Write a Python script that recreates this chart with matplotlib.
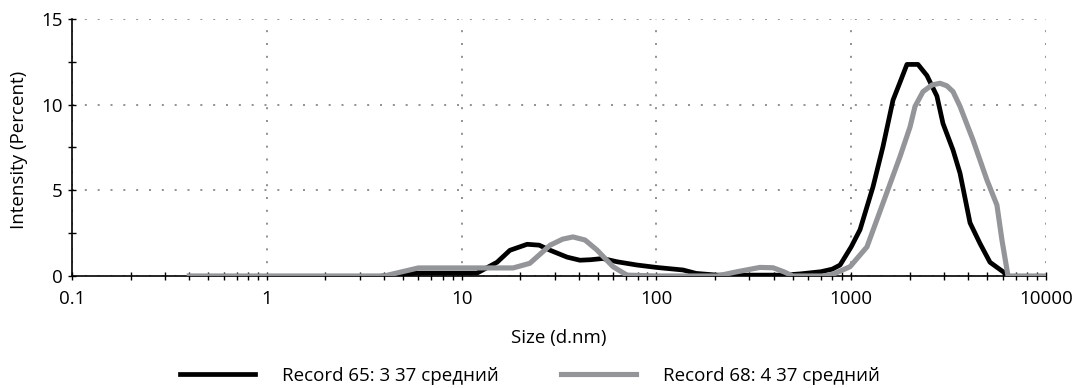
import matplotlib.pyplot as plt
from matplotlib.ticker import LogLocator, NullFormatter, FixedLocator

plt.rcParams['font.family'] = ['Open Sans', 'DejaVu Sans']

# ---- data ----
size_65 = [3.96, 4.5, 5.9, 8, 12.0, 15.2, 17.7, 21.7, 25, 28.5, 34.8, 40.5, 46, 53,
           62.8, 79.5, 100, 137, 160, 205, 300, 450, 546, 700, 800, 877, 1000, 1110,
           1294, 1456, 1640, 1780, 1933, 2202, 2448, 2755, 2960, 3333, 3620, 4075,
           4583, 5160, 6017, 6383]
int_65 = [0, 0.05, 0.17, 0.17, 0.17, 0.8, 1.5, 1.85, 1.8, 1.5, 1.1, 0.92, 0.95, 1.02,
          0.83, 0.64, 0.5, 0.35, 0.15, 0.05, 0.05, 0.05, 0.12, 0.25, 0.4, 0.64, 1.7, 2.7,
          5.2, 7.55, 10.27, 11.3, 12.35, 12.35, 11.7, 10.5, 8.9, 7.35, 6.0, 3.1,
          1.9, 0.8, 0.25, 0.0]

size_68 = [0.4, 4.0, 6.0, 10, 18.4, 22.4, 28.5, 33, 37.3, 43, 49.5, 59.8, 70.6, 100,
           205, 260, 340, 397, 450, 502, 716, 807, 986, 1205, 1456, 1780, 2005, 2127,
           2337, 2600, 2857, 3100, 3333, 3620, 4220, 4977, 5600, 5943, 6383, 10000]
int_68 = [0, 0, 0.47, 0.47, 0.47, 0.74, 1.8, 2.15, 2.28, 2.1, 1.52, 0.55, 0.05, 0.0,
          0.0, 0.25, 0.5, 0.48, 0.25, 0.0, 0.0, 0.1, 0.54, 1.7, 4.25, 6.96, 8.7, 9.9,
          10.76, 11.15, 11.25, 11.1, 10.76, 9.9, 7.94, 5.6, 4.14, 2.1, 0.0, 0.0]

labels = ['Record 65: 3 37 средний', 'Record 68: 4 37 средний']
colors = ['#000000', '#939598']

FS = 13.5

fig = plt.figure(figsize=(10.75, 3.88), dpi=100)
ax = fig.add_axes([0.067, 0.2887, 0.906, 0.6623])

ax.plot(size_65, int_65, color=colors[0], lw=3.4, label=labels[0], zorder=3,
        solid_joinstyle='round')
ax.plot(size_68, int_68, color=colors[1], lw=3.7, label=labels[1], zorder=4,
        solid_joinstyle='round')

ax.set_xscale('log')
ax.set_xlim(0.1, 10000)
ax.set_ylim(0, 15)

ax.xaxis.set_major_locator(FixedLocator([0.1, 1, 10, 100, 1000, 10000]))
ax.set_xticklabels(['0.1', '1', '10', '100', '1000', '10000'])
ax.xaxis.set_minor_locator(LogLocator(base=10, subs=range(2, 10)))
ax.xaxis.set_minor_formatter(NullFormatter())
ax.set_yticks([0, 5, 10, 15])
ax.set_yticks([2.5, 7.5, 12.5], minor=True)

ax.tick_params(which='both', direction='inout', length=6, width=1, labelsize=FS,
               color='black')
ax.tick_params(axis='x', pad=7)
ax.tick_params(axis='y', pad=4)

ax.grid(True, which='major', color='#7f7f7f', linestyle=(0, (1.2, 6.5)), lw=1.2)
for s in ['top', 'right']:
    ax.spines[s].set_visible(False)
for s in ['left', 'bottom']:
    ax.spines[s].set_linewidth(1.2)
ax.set_axisbelow(True)

ax.set_xlabel('Size (d.nm)', fontsize=FS)
ax.xaxis.set_label_coords(0.5, -0.205)
ax.set_ylabel('Intensity (Percent)', fontsize=FS)
ax.yaxis.set_label_coords(-0.045, 0.49)

fig.legend(loc='center', bbox_to_anchor=(0.493, 0.031), ncol=2, frameon=False,
           fontsize=FS, handlelength=4.0, handletextpad=1.45, columnspacing=3.3,
           borderpad=0)

fig.savefig('out.png', dpi=100)
